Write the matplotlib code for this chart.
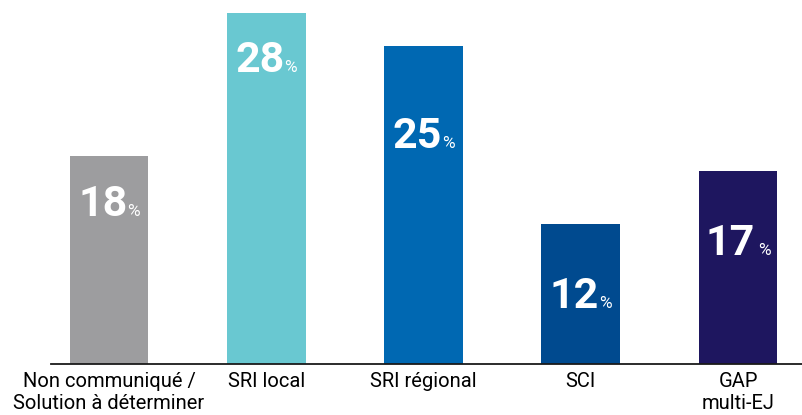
import matplotlib
matplotlib.use('Agg')
from matplotlib import pyplot as plt
from matplotlib.offsetbox import TextArea, HPacker, AnnotationBbox

categories = ['Non communiqué /\nSolution à déterminer', 'SRI local', 'SRI régional', 'SCI', 'GAP\nmulti-EJ']
shares = [18, 28, 25, 12, 17]
# heights of the bars as drawn in the picture (they are not exactly to scale)
bar_heights = [16.6, 28.0, 25.4, 11.2, 15.4]
colors = ['#9d9d9f', '#69c8d1', '#0068b2', '#004a8f', '#1e165f']

# label baseline offset below bar top (points) and gap before the % sign
label_drop = [50, 49, 80, 67, 67]
pct_gap = [0, 0, 0, 0, 3]

plt.rcParams['font.family'] = ['Roboto', 'DejaVu Sans']

fig = plt.figure(figsize=(8.03, 4.15), dpi=100)
ax = fig.add_axes([51 / 803, 51 / 415, 752 / 803, 364 / 415])

x = list(range(len(categories)))
ax.bar(x, bar_heights, width=0.5, color=colors)

for i, h in enumerate(bar_heights):
    num = TextArea(str(shares[i]), textprops=dict(color='white', fontsize=31, fontweight='bold'))
    pct = TextArea('%', textprops=dict(color='white', fontsize=12.5))
    box = HPacker(children=[num, pct], align='baseline', pad=0, sep=pct_gap[i])
    ab = AnnotationBbox(box, (i, h), xybox=(0, -label_drop[i]), xycoords='data',
                        boxcoords='offset points', box_alignment=(0.5, 0), frameon=False)
    ax.add_artist(ab)

ax.set_xlim(-0.369, 4.413)
ax.set_ylim(0, 29.04)
ax.set_xticks(x)
ax.set_xticklabels(categories, fontsize=14.5, linespacing=1.2)
ax.tick_params(axis='x', length=0, pad=6)
ax.set_yticks([])
for s in ['top', 'right', 'left']:
    ax.spines[s].set_visible(False)
ax.spines['bottom'].set_color('#1a1a1a')
ax.spines['bottom'].set_linewidth(1.3)

plt.savefig('out.png', dpi=100)
